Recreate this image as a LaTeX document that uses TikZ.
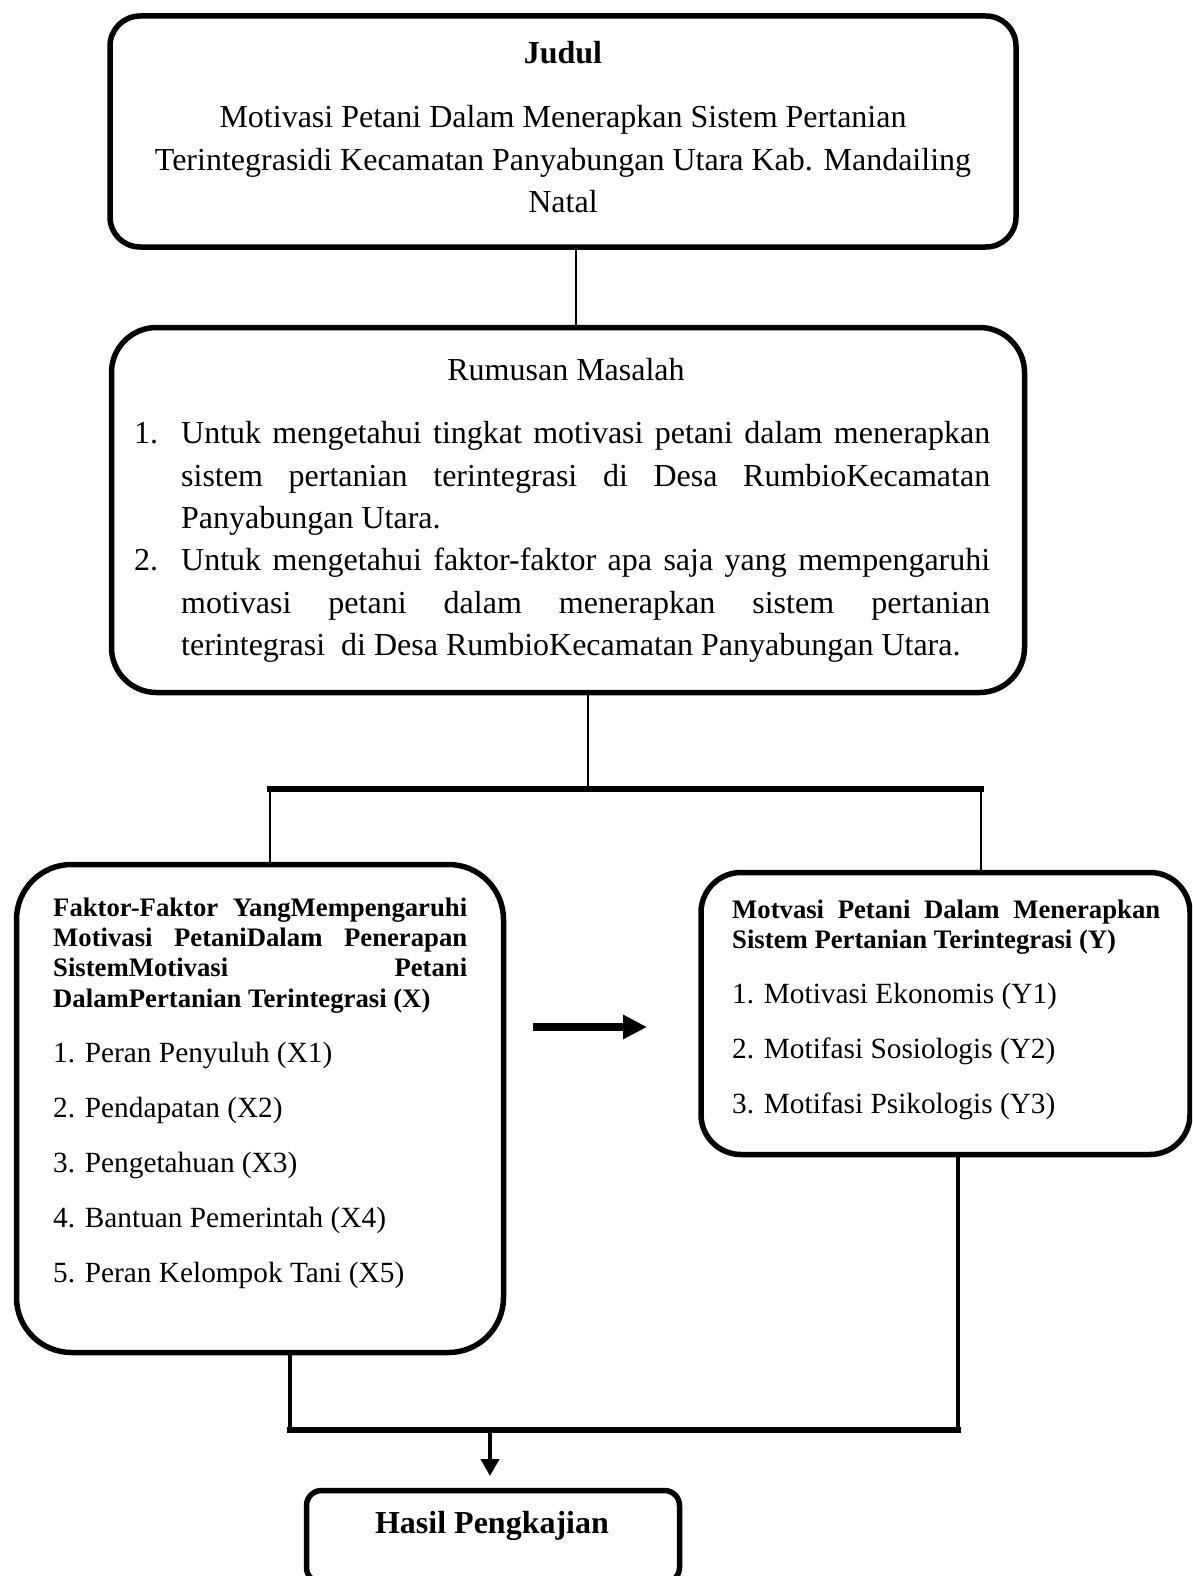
\documentclass[tikz,border=0pt]{standalone}
\usepackage{fontspec}
\setmainfont{Liberation Serif}
\usetikzlibrary{arrows.meta}
\tikzset{
  box/.style={draw, line width=5.5pt, rounded corners=#1, inner sep=0pt, outer sep=0pt},
  box/.default=30pt,
  big/.style={font=\fontsize{32}{42}\selectfont, inner sep=0pt, anchor=base},
  bigw/.style={font=\fontsize{32}{42}\selectfont, inner sep=0pt, anchor=base west},
  bigb/.style={font=\bfseries\fontsize{32}{42}\selectfont, inner sep=0pt, anchor=base},
  head/.style={font=\bfseries\fontsize{26.7}{30}\selectfont, inner sep=0pt, anchor=base west},
  item/.style={font=\fontsize{29.3}{36}\selectfont, inner sep=0pt, anchor=base west},
  link/.style={line width=2.8pt},
  bar/.style={line width=5.5pt},
  barb/.style={line width=6.5pt},
}
\begin{document}
\begin{tikzpicture}[x=1pt,y=-1pt]
\useasboundingbox (0,0) rectangle (1192,1576);
\clip (0,0) rectangle (1192,1576);

% boxes
\node[box=30pt, minimum width=906pt, minimum height=231pt] (b1) at (563,131.5) {};
\node[box=45pt, minimum width=913pt, minimum height=365pt] (b2) at (568,510) {};
\node[box=55pt, minimum width=487pt, minimum height=488pt] (b3) at (260,1108.5) {};
\node[box=40pt, minimum width=489pt, minimum height=282pt] (b4) at (945.5,1013.5) {};
\node[box=15pt, minimum width=373pt, minimum height=92pt] (b5) at (493,1536.5) {};

% title texts
\node[bigb] (t0) at (563,64) {Judul};
\node[big] (t1) at (563,128) {Motivasi Petani Dalam Menerapkan Sistem Pertanian};
\node[big] (t2) at (563,170) {Terintegrasidi Kecamatan Panyabungan Utara Kab. Mandailing};
\node[big] (t3) at (563,212) {Natal};

% rumusan
\node[big] (r0) at (566,380) {Rumusan Masalah};
\node[bigw] (n1) at (134,443) {1.};
\node[bigw] (r1) at (181,443) {\makebox[809pt][s]{Untuk mengetahui tingkat motivasi petani dalam menerapkan}};
\node[bigw] (r2) at (181,486) {\makebox[809pt][s]{sistem pertanian terintegrasi di Desa RumbioKecamatan}};
\node[bigw] (r3) at (181,528) {Panyabungan Utara.};
\node[bigw] (n2) at (134,570) {2.};
\node[bigw] (r4) at (181,570) {\makebox[809pt][s]{Untuk mengetahui faktor-faktor apa saja yang mempengaruhi}};
\node[bigw] (r5) at (181,613) {\makebox[809pt][s]{motivasi petani dalam menerapkan sistem pertanian}};
\node[bigw] (r6) at (181,655) {terintegrasi\ \ di Desa RumbioKecamatan Panyabungan Utara.};

% left box
\node[head] (h1) at (53,916) {\makebox[414pt][s]{Faktor-Faktor YangMempengaruhi}};
\node[head] (h2) at (53,946) {\makebox[414pt][s]{Motivasi PetaniDalam Penerapan}};
\node[head] (h3) at (53,976) {\makebox[414pt][s]{SistemMotivasi Petani}};
\node[head] (h4) at (53,1007) {DalamPertanian Terintegrasi (X)};
\node[item] (x1) at (53,1062) {1. Peran Penyuluh (X1)};
\node[item] (x2) at (53,1117) {2. Pendapatan (X2)};
\node[item] (x3) at (53,1172) {3. Pengetahuan (X3)};
\node[item] (x4) at (53,1227) {4. Bantuan Pemerintah (X4)};
\node[item] (x5) at (53,1282) {5. Peran Kelompok Tani (X5)};

% right box
\node[head] (g1) at (732,918) {\makebox[428pt][s]{Motvasi Petani Dalam Menerapkan}};
\node[head] (g2) at (732,948) {Sistem Pertanian Terintegrasi (Y)};
\node[item] (y1) at (732,1003) {1. Motivasi Ekonomis (Y1)};
\node[item] (y2) at (732,1058) {2. Motifasi Sosiologis (Y2)};
\node[item] (y3) at (732,1113) {3. Motifasi Psikologis (Y3)};

% result
\node[bigb] (hp) at (492,1533) {Hasil Pengkajian};

% connectors
\coordinate (c1) at (576,0);
\coordinate (c2) at (588,789);
\coordinate (jl) at (270,789);
\coordinate (jr) at (981,789);
\coordinate (kl) at (290,1430);
\coordinate (kr) at (958,1430);
\coordinate (km) at (490,1430);
\coordinate (ka) at (490,1476);
\coordinate (a1) at (533,1027);
\coordinate (a2) at (647,1027);

\draw[link] (b1.south -| c1) -- (b2.north -| c1);
\draw[link] (b2.south -| c2) -- (c2);
\draw[bar, line cap=rect] (jl) -- (jr);
\draw[link] (jl) -- (b3.north -| jl);
\draw[link] (jr) -- (b4.north -| jr);
\draw[line width=8pt, -{Triangle[length=24pt,width=23pt]}] (a1) -- (a2);
\draw[link, line width=3.3pt] (b3.south -| kl) -- (kl);
\draw[link, line width=3.3pt] (b4.south -| kr) -- (kr);
\draw[barb, line cap=rect] (kl) -- (kr);
\draw[line width=4pt, -{Triangle[length=17pt,width=18pt]}] (km) -- (ka);
\end{tikzpicture}
\end{document}
